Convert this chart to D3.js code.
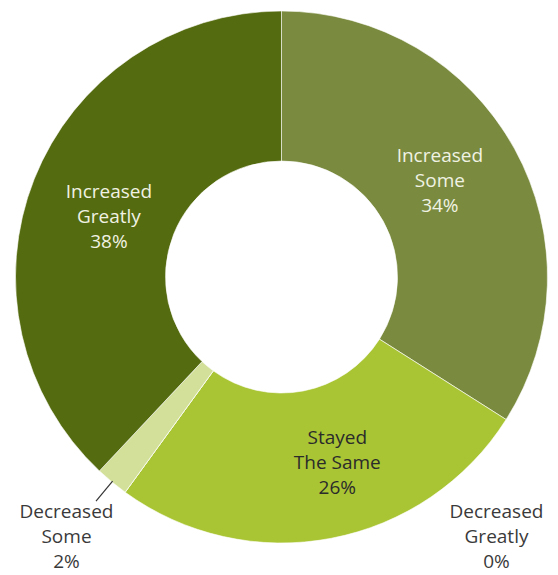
<!DOCTYPE html>
<html>
<head>
<meta charset="utf-8">
<script src="https://cdn.jsdelivr.net/npm/d3@7"></script>
<style>
  html, body { margin: 0; padding: 0; background: #ffffff; }
  svg { display: block; }
</style>
</head>
<body>
<svg id="chart" width="558" height="575"></svg>
<script>
// Survey response shares, clockwise from 12 o'clock
const categories = ["Increased Some", "Stayed The Same", "Decreased Greatly", "Decreased Some", "Increased Greatly"];
const labelLines = [["Increased", "Some"], ["Stayed", "The Same"], ["Decreased", "Greatly"], ["Decreased", "Some"], ["Increased", "Greatly"]];
const values = [34, 26, 0, 2, 38];

const colors = ["#7a8b3f", "#a9c534", "#c7d96b", "#d2e09a", "#556b0f"];
const textColors = ["#f0f2e4", "#2b2b2b", "#3a3a3a", "#3a3a3a", "#f0f2e4"];

const width = 558, height = 575;
const cx = 281.5, cy = 277;
const outerR = 266, innerR = 116;

const svg = d3.select("#chart");
const g = svg.append("g").attr("transform", `translate(${cx},${cy})`);

const pie = d3.pie().sort(null).value(d => d).startAngle(0).endAngle(2 * Math.PI);
const arcs = pie(values);

const arc = d3.arc().innerRadius(innerR).outerRadius(outerR);

g.selectAll("path.slice")
  .data(arcs)
  .join("path")
  .attr("class", "slice")
  .attr("d", arc)
  .attr("fill", (d, i) => colors[i])
  .attr("stroke", "#ffffff")
  .attr("stroke-width", 0.6);

// label placement: inside slices use the arc centroid, small slices get outside labels
const inside = [true, true, false, false, true];
const nudges = [[-9, -5], [20, -2], [0, 0], [0, 0], [5, 10]];
const outsidePos = { 2: [215, 259.5], 3: [-215, 259.5] };

const fontSize = 19, lineH = 25;

arcs.forEach((a, i) => {
  let x, y;
  if (inside[i]) {
    const c = arc.centroid(a);
    x = c[0] + nudges[i][0];
    y = c[1] + nudges[i][1];
  } else {
    x = outsidePos[i][0];
    y = outsidePos[i][1];
  }
  const lines = labelLines[i].concat([values[i] + "%"]);
  const t = g.append("text")
    .attr("text-anchor", "middle")
    .attr("font-family", "'Open Sans', sans-serif")
    .attr("font-size", fontSize)
    .attr("fill", textColors[i]);
  lines.forEach((ln, k) => {
    t.append("tspan")
      .attr("x", x)
      .attr("y", y + (k - 1) * lineH)
      .attr("dy", "0.35em")
      .text(ln);
  });
});

// leader line for the thin "Decreased Some" slice
const small = arcs[3];
const midA = (small.startAngle + small.endAngle) / 2;
g.append("line")
  .attr("x1", Math.sin(midA) * (outerR - 1))
  .attr("y1", -Math.cos(midA) * (outerR - 1))
  .attr("x2", Math.sin(midA) * (outerR + 25))
  .attr("y2", -Math.cos(midA) * (outerR + 25))
  .attr("stroke", "#333333")
  .attr("stroke-width", 1.2);
</script>
</body>
</html>
